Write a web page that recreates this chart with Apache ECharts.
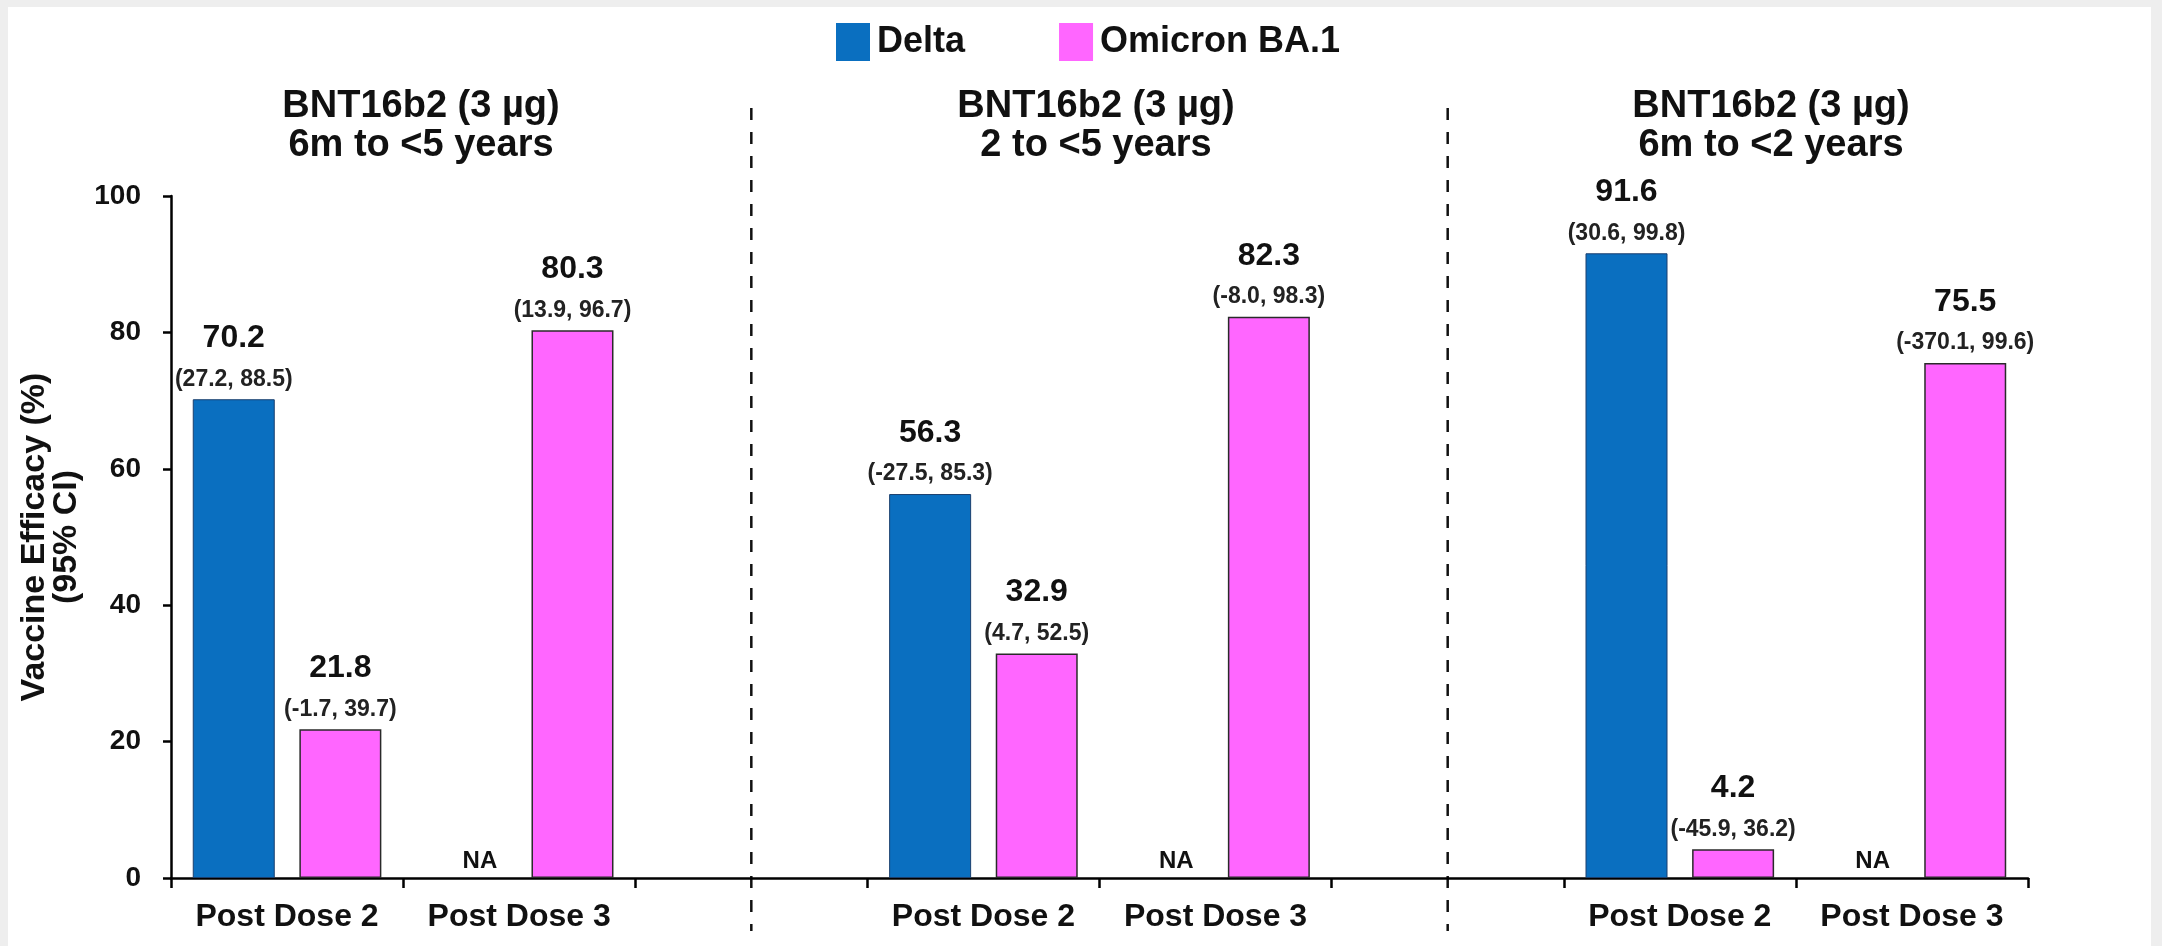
<!DOCTYPE html>
<html>
<head>
<meta charset="utf-8">
<script src="https://cdn.jsdelivr.net/npm/echarts@6/dist/echarts.min.js"></script>
<style>
  html, body { margin: 0; padding: 0; background: #eeeeee; }
  #chart { position: absolute; left: 8px; top: 7px; width: 2143px; height: 939px; background: #fff; }
</style>
</head>
<body>
<div id="chart"></div>
<script>
  const FONT = '"Liberation Sans", Arial, sans-serif'

  // x categories, '' = spacer between the three panels
  const categories = ['Post Dose 2', 'Post Dose 3', '', 'Post Dose 2', 'Post Dose 3', '', 'Post Dose 2', 'Post Dose 3']

  // Delta ('NA' = not available)
  const deltaValues = [70.2, 'NA', null, 56.3, 'NA', null, 91.6, 'NA']
  const deltaLow = [27.2, null, null, -27.5, null, null, 30.6, null]
  const deltaHigh = [88.5, null, null, 85.3, null, null, 99.8, null]

  // Omicron BA.1
  const omicronValues = [21.8, 80.3, null, 32.9, 82.3, null, 4.2, 75.5]
  const omicronLow = [-1.7, 13.9, null, 4.7, -8.0, null, -45.9, -370.1]
  const omicronHigh = [39.7, 96.7, null, 52.5, 98.3, null, 36.2, 99.6]

  const panelTitles = [
    'BNT16b2 (3 µg)\n6m to <5 years',
    'BNT16b2 (3 µg)\n2 to <5 years',
    'BNT16b2 (3 µg)\n6m to <2 years'
  ]
  const titleLeft = [408, 1083, 1758]

  const yMin = 0, yMax = 100, yStep = 20

  const DELTA_COLOR = '#0a6fc0'
  const OMICRON_COLOR = '#ff66ff'

  function buildData(values, low, high) {
    return values.map(function (v, i) {
      if (v === null) return null
      if (v === 'NA') {
        return {
          value: 0,
          itemStyle: { borderWidth: 0 },
          label: {
            show: true,
            formatter: 'NA',
            fontSize: 24,
            fontWeight: 'bold',
            color: '#111',
            offset: [14, 0],
            distance: 5,
            rich: {}
          }
        }
      }
      return {
        value: v,
        label: {
          formatter: '{v|' + v.toFixed(1) + '}\n{ci|(' + low[i].toFixed(1) + ', ' + high[i].toFixed(1) + ')}'
        }
      }
    })
  }

  const valueLabel = {
    show: true,
    position: 'top',
    distance: 5,
    fontFamily: FONT,
    color: '#111',
    rich: {
      v: { fontSize: 32, fontWeight: 'bold', lineHeight: 52, fontFamily: FONT, color: '#111' },
      ci: { fontSize: 23, fontWeight: 'bold', lineHeight: 30, fontFamily: FONT, color: '#222' }
    }
  }

  const chart = echarts.init(document.getElementById('chart'))

  chart.setOption({
    backgroundColor: '#fff',
    animation: false,
    textStyle: { fontFamily: FONT },
    title: panelTitles.map(function (t, i) {
      return {
        text: t,
        left: titleLeft[i],
        top: 75,
        textAlign: 'center',
        textStyle: { fontSize: 38, fontWeight: 'bold', lineHeight: 39, color: '#111', fontFamily: FONT }
      }
    }),
    legend: {
      left: 823,
      top: 11,
      itemWidth: 34,
      itemHeight: 38,
      itemGap: 94,
      icon: 'rect',
      itemStyle: { borderWidth: 0 },
      textStyle: { fontSize: 36, fontWeight: 'bold', color: '#111', fontFamily: FONT, padding: [0, 0, 0, 2] },
      data: ['Delta', 'Omicron BA.1']
    },
    grid: { left: 163, right: 123, top: 189, bottom: 68 },
    xAxis: {
      type: 'category',
      data: categories,
      axisLine: { lineStyle: { color: '#000', width: 2.5 } },
      axisTick: { show: true, interval: 0, length: 10, lineStyle: { color: '#000', width: 2.5 } },
      axisLabel: { interval: 0, margin: 23, fontSize: 32, fontWeight: 'bold', color: '#111', fontFamily: FONT },
      splitLine: { show: false }
    },
    yAxis: {
      type: 'value',
      min: yMin,
      max: yMax,
      interval: yStep,
      name: 'Vaccine Efficacy (%)\n(95% CI)',
      nameLocation: 'middle',
      nameRotate: 90,
      nameGap: 68,
      nameTextStyle: { fontSize: 34, fontWeight: 'bold', lineHeight: 32, color: '#111', fontFamily: FONT },
      axisLine: { show: true, lineStyle: { color: '#000', width: 2.5 } },
      axisTick: { show: true, length: 8, lineStyle: { color: '#000', width: 2.5 } },
      axisLabel: { margin: 30, fontSize: 28, fontWeight: 'bold', color: '#111', fontFamily: FONT },
      splitLine: { show: false }
    },
    series: [
      {
        name: 'Delta',
        type: 'bar',
        barWidth: 82,
        barGap: '30%',
        itemStyle: { color: DELTA_COLOR, borderColor: '#1b3f6e', borderWidth: 1 },
        label: valueLabel,
        data: buildData(deltaValues, deltaLow, deltaHigh)
      },
      {
        name: 'Omicron BA.1',
        type: 'bar',
        barWidth: 82,
        barGap: '30%',
        itemStyle: { color: OMICRON_COLOR, borderColor: '#2a2a2a', borderWidth: 1.5 },
        label: valueLabel,
        data: buildData(omicronValues, omicronLow, omicronHigh)
      }
    ]
  })

  // dashed separators through the spacer categories
  var sepX = []
  categories.forEach(function (c, i) {
    if (c === '') sepX.push(chart.convertToPixel({ xAxisIndex: 0 }, i))
  })
  chart.setOption({
    graphic: sepX.map(function (x) {
      return {
        type: 'line',
        silent: true,
        shape: { x1: x, y1: 101, x2: x, y2: 924 },
        style: { stroke: '#111', lineWidth: 2.5, lineDash: [12, 12] }
      }
    })
  })
</script>
</body>
</html>
